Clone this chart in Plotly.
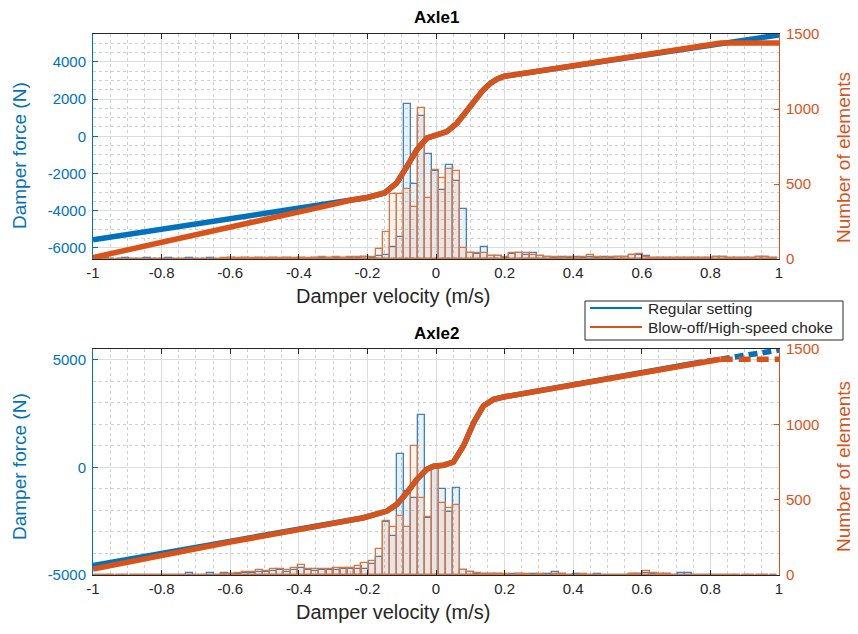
import plotly.graph_objects as go

# ---------------- data ----------------
# histogram bin centres (m/s), bin width 0.0205
bin_centers = [-0.986, -0.965, -0.945, -0.924, -0.904, -0.883, -0.863, -0.842, -0.822, -0.801,
               -0.781, -0.760, -0.740, -0.719, -0.699, -0.678, -0.658, -0.637, -0.617, -0.596,
               -0.576, -0.555, -0.535, -0.514, -0.494, -0.473, -0.453, -0.432, -0.412, -0.391,
               -0.371, -0.350, -0.330, -0.309, -0.289, -0.268, -0.248, -0.227, -0.207, -0.186,
               -0.166, -0.145, -0.125, -0.104, -0.084, -0.063, -0.043, -0.022, -0.002, 0.019,
               0.039, 0.060, 0.080, 0.101, 0.121, 0.142, 0.162, 0.183, 0.203, 0.224,
               0.244, 0.265, 0.285, 0.306, 0.326, 0.347, 0.368, 0.388, 0.409, 0.429,
               0.450, 0.470, 0.491, 0.511, 0.532, 0.552, 0.573, 0.593, 0.614, 0.634,
               0.655, 0.675, 0.696, 0.716, 0.737, 0.757, 0.778, 0.798, 0.819, 0.839,
               0.860, 0.880, 0.901, 0.921, 0.942, 0.962, 0.983]
bin_width = 0.0205

# Axle1 histogram counts
axle1_regular_counts = ([0, 4, 0, 0, 5, 0, 0, 6, 0, 0, 4, 0, 0, 6, 0, 0, 5, 0]
                        + [0, 5, 0, 6, 0, 4, 0, 6, 0, 5, 0, 6, 0, 8, 5]
                        + [8, 6, 10, 8, 10, 15, 10]
                        + [20, 30, 80, 150, 1031, 500, 953, 701, 585, 458, 629, 522, 333]
                        + [38, 35, 80, 22, 20, 10, 35, 38, 30, 42, 20]
                        + [12, 10, 14, 10, 12, 10, 12, 8, 12, 10, 12, 14]
                        + [25, 27, 20]
                        + [10, 10, 10, 10, 10, 10, 8, 8, 8, 15, 15, 8, 8, 8, 8, 15, 15, 5])
axle1_blowoff_counts = ([3] * 18
                        + [4, 4, 4, 5, 5, 5, 5, 6, 6, 6, 6, 8, 8, 10, 12]
                        + [10, 12, 10, 12, 12, 15, 15]
                        + [67, 183, 433, 433, 467, 345, 1009, 406, 596, 540, 603, 589, 71]
                        + [38, 38, 38, 22, 22, 15, 38, 38, 38, 30, 22]
                        + [12, 15, 10, 12, 10, 14, 25, 12, 10, 12, 14, 12]
                        + [27, 33, 15]
                        + [5, 5, 5, 5, 5, 5, 8, 8, 8, 15, 15, 8, 8, 8, 8, 15, 15, 5])

# Axle2 histogram counts
axle2_regular_counts = ([0, 0, 0, 0, 0, 0, 0, 0, 0, 0, 0, 0, 0, 13, 0, 0, 13, 0]
                        + [13, 5, 8, 10, 12, 20, 18, 28, 30, 22, 35, 45, 30, 28, 30]
                        + [30, 35, 38, 40, 42, 40, 75]
                        + [120, 355, 259, 803, 555, 509, 1062, 380, 708, 571, 420, 580, 30]
                        + [20, 8, 5, 4, 5, 3, 4, 5, 3, 4, 3]
                        + [4, 20, 4, 3, 4, 3, 3, 4, 3, 3, 3, 3]
                        + [4, 5, 10]
                        + [5, 4, 4, 3, 12, 12, 3, 3, 3, 3, 3, 3, 3, 3, 3, 3, 3, 3])
axle2_blowoff_counts = ([3] * 18
                        + [5, 8, 15, 18, 18, 33, 27, 40, 40, 33, 49, 66, 40, 40, 40]
                        + [40, 49, 49, 49, 60, 80, 90]
                        + [175, 360, 316, 392, 321, 858, 509, 387, 719, 478, 448, 465, 33]
                        + [22, 12, 5, 5, 4, 5, 3, 4, 5, 3, 4]
                        + [3, 8, 4, 3, 3, 4, 3, 3, 3, 3, 3, 3]
                        + [5, 8, 25]
                        + [15, 5, 4, 3, 3, 3, 3, 3, 3, 3, 3, 3, 3, 3, 3, 3, 3, 3])

# Axle1 damper characteristics (velocity m/s, force N)
axle1_regular_v = [-1.0, -0.6, -0.3, -0.25, -0.2, -0.15, -0.115, -0.085, -0.056, -0.027, 0.003,
                   0.032, 0.061, 0.09, 0.119, 0.138, 0.16, 0.18, 0.2, 0.4, 0.6, 0.8, 0.9, 1.0]
axle1_regular_f = [-5570, -4420, -3560, -3440, -3290, -3050, -2520, -1630, -730, -100, 75,
                   250, 700, 1420, 2135, 2500, 2870, 3100, 3230, 3780, 4330, 4950, 5200, 5450]
axle1_blowoff_v = [-1.0, -0.8, -0.6, -0.4, -0.3, -0.25, -0.2, -0.15, -0.115, -0.085, -0.056,
                   -0.027, 0.003, 0.032, 0.061, 0.09, 0.119, 0.138, 0.16, 0.18, 0.2, 0.4,
                   0.6, 0.8, 0.83, 1.0]
axle1_blowoff_f = [-6520, -5720, -4920, -4130, -3660, -3440, -3290, -3050, -2520, -1630, -730,
                   -100, 75, 250, 700, 1420, 2135, 2500, 2870, 3100, 3230, 3780,
                   4330, 4950, 5010, 5010]

# Axle2 damper characteristics
axle2_regular_v = [-1.0, -0.6, -0.3, -0.211, -0.143, -0.114, -0.085, -0.056, -0.027, -0.007,
                   0.022, 0.051, 0.08, 0.11, 0.138, 0.168, 0.2, 0.4, 0.6, 0.75]
axle2_regular_f = [-4560, -3420, -2590, -2340, -2030, -1720, -1180, -560, -90, 50,
                   100, 250, 990, 2080, 2850, 3160, 3280, 3850, 4400, 4830]
axle2_regular_tail_v = [0.75, 1.0]
axle2_regular_tail_f = [4830, 5450]
axle2_blowoff_v = [-1.0, -0.6, -0.3, -0.211, -0.143, -0.114, -0.085, -0.056, -0.027, -0.007,
                   0.022, 0.051, 0.08, 0.11, 0.138, 0.168, 0.2, 0.4, 0.6, 0.83]
axle2_blowoff_f = [-4720, -3470, -2600, -2340, -2030, -1720, -1180, -560, -90, 50,
                   100, 250, 990, 2080, 2850, 3160, 3280, 3850, 4400, 5020]
axle2_blowoff_tail_v = [0.83, 1.0]
axle2_blowoff_tail_f = [5020, 5020]

x_ticks = [-1, -0.8, -0.6, -0.4, -0.2, 0, 0.2, 0.4, 0.6, 0.8, 1]
x_ticktext = ["-1", "-0.8", "-0.6", "-0.4", "-0.2", "0", "0.2", "0.4", "0.6", "0.8", "1"]
axle1_force_ticks = [-6000, -4000, -2000, 0, 2000, 4000]
axle1_force_text = ["-6000", "-4000", "-2000", "0", "2000", "4000"]
axle2_force_ticks = [-5000, 0, 5000]
axle2_force_text = ["-5000", "0", "5000"]
count_ticks = [0, 500, 1000, 1500]
legend_labels = ["Regular setting", "Blow-off/High-speed choke"]

# ---------------- style ----------------
BLUE = "#0072BD"
ORANGE = "#D95319"
DARK = "#262626"
FONT = "Liberation Sans, Arial, sans-serif"
LW = 5.5
TICK_SIZE = 15
LABEL_SIZE = 19

# plot-area geometry in pixels (figure 858 x 634)
L, R, T, B = 93, 779, 34, 575
W_PX, H_PX = R - L, B - T


def px(xp):
    return (xp - L) / W_PX


def py(yp):
    return (B - yp) / H_PX


fig = go.Figure()


def add_hist(xa, ya, reg, blo):
    fig.add_trace(go.Bar(x=bin_centers, y=reg, width=bin_width, xaxis=xa, yaxis=ya,
                         marker=dict(color="rgba(0,114,189,0.09)",
                                     line=dict(color="#3C83C0", width=1.3)),
                         showlegend=False, hoverinfo="skip"))
    fig.add_trace(go.Bar(x=bin_centers, y=blo, width=bin_width, xaxis=xa, yaxis=ya,
                         marker=dict(color="rgba(217,83,25,0.07)",
                                     line=dict(color="#D9763F", width=1.3)),
                         showlegend=False, hoverinfo="skip"))


add_hist("x", "y", axle1_regular_counts, axle1_blowoff_counts)
add_hist("x2", "y3", axle2_regular_counts, axle2_blowoff_counts)

# curves (on overlaying force axes so they are drawn above the bars)
fig.add_trace(go.Scatter(x=axle1_regular_v, y=axle1_regular_f, xaxis="x", yaxis="y2",
                         mode="lines", line=dict(color=BLUE, width=LW), showlegend=False))
fig.add_trace(go.Scatter(x=axle1_blowoff_v, y=axle1_blowoff_f, xaxis="x", yaxis="y2",
                         mode="lines", line=dict(color=ORANGE, width=LW), showlegend=False))
fig.add_trace(go.Scatter(x=axle2_regular_v, y=axle2_regular_f, xaxis="x2", yaxis="y4",
                         mode="lines", line=dict(color=BLUE, width=LW), showlegend=False))
fig.add_trace(go.Scatter(x=axle2_regular_tail_v, y=axle2_regular_tail_f, xaxis="x2", yaxis="y4",
                         mode="lines", line=dict(color=BLUE, width=LW, dash="9px,5px"),
                         showlegend=False))
fig.add_trace(go.Scatter(x=axle2_blowoff_v, y=axle2_blowoff_f, xaxis="x2", yaxis="y4",
                         mode="lines", line=dict(color=ORANGE, width=LW), showlegend=False))
fig.add_trace(go.Scatter(x=axle2_blowoff_tail_v, y=axle2_blowoff_tail_f, xaxis="x2", yaxis="y4",
                         mode="lines", line=dict(color=ORANGE, width=LW, dash="12px,6px"),
                         showlegend=False))

TOP = [py(259), 1.0]
BOT = [0.0, py(349)]


def xaxis_cfg(anchor):
    return dict(domain=[0, 1], anchor=anchor, range=[-1, 1], automargin=False,
                tickvals=x_ticks, ticktext=x_ticktext,
                ticks="inside", ticklen=5, tickcolor=DARK,
                showline=True, linecolor=DARK, linewidth=1, mirror="ticks",
                showgrid=True, gridcolor="#DCDCDC", gridwidth=1, zeroline=False,
                minor=dict(dtick=0.05, tick0=0, showgrid=True, griddash="dot",
                           gridcolor="#CFCFCF", gridwidth=1),
                tickfont=dict(family=FONT, size=TICK_SIZE, color=DARK))


def count_cfg(domain, anchor):
    return dict(domain=domain, anchor=anchor, side="right", range=[0, 1500],
                automargin=False,
                tickvals=count_ticks, ticks="inside", ticklen=5, tickcolor=ORANGE,
                showline=True, linecolor=ORANGE, linewidth=1, showgrid=False,
                zeroline=False, ticklabelstandoff=3,
                tickfont=dict(family=FONT, size=TICK_SIZE, color=ORANGE))


def force_cfg(overlay, anchor, rng, tv, tt, mdt):
    return dict(overlaying=overlay, anchor=anchor, side="left", range=rng,
                automargin=False,
                tickvals=tv, ticktext=tt, ticks="inside", ticklen=5, tickcolor=BLUE,
                showline=True, linecolor=BLUE, linewidth=1,
                showgrid=True, gridcolor="#DCDCDC", gridwidth=1, zeroline=False,
                minor=dict(dtick=mdt, showgrid=True, griddash="dot",
                           gridcolor="#CFCFCF", gridwidth=1),
                ticklabelstandoff=3,
                tickfont=dict(family=FONT, size=TICK_SIZE, color=BLUE))


def text_ann(text, xp, yp, size, color, angle=0, bold=False, xanchor="center"):
    return dict(text=("<b>%s</b>" % text) if bold else text, x=px(xp), y=py(yp),
                xref="paper", yref="paper", showarrow=False, textangle=angle,
                xanchor=xanchor, yanchor="middle",
                font=dict(family=FONT, size=size, color=color))


annotations = [
    text_ann("Axle1", 436, 17, 17, "black", bold=True),
    text_ann("Axle2", 436, 333, 17, "black", bold=True),
    text_ann("Damper velocity (m/s)", 393, 296, 20, DARK),
    text_ann("Damper velocity (m/s)", 393, 612, 20, DARK),
    text_ann("Damper force (N)", 19, 156, LABEL_SIZE, BLUE, angle=-90),
    text_ann("Damper force (N)", 19, 467, LABEL_SIZE, BLUE, angle=-90),
    text_ann("Number of elements", 843, 158, LABEL_SIZE, ORANGE, angle=-90),
    text_ann("Number of elements", 843, 467, LABEL_SIZE, ORANGE, angle=-90),
    # legend texts
    text_ann(legend_labels[0], 646, 308, 15.5, DARK, xanchor="left"),
    text_ann(legend_labels[1], 646, 327, 15.5, DARK, xanchor="left"),
]

shapes = [
    dict(type="rect", xref="paper", yref="paper", x0=px(585), x1=px(843),
         y0=py(340), y1=py(301), fillcolor="white", line=dict(color=DARK, width=1),
         layer="above"),
    dict(type="line", xref="paper", yref="paper", x0=px(590), x1=px(642),
         y0=py(308), y1=py(308), line=dict(color=BLUE, width=2), layer="above"),
    dict(type="line", xref="paper", yref="paper", x0=px(590), x1=px(642),
         y0=py(327), y1=py(327), line=dict(color=ORANGE, width=2), layer="above"),
]

fig.update_layout(
    width=858, height=634,
    margin=dict(l=L, r=858 - R, t=T, b=634 - B, autoexpand=False),
    paper_bgcolor="white", plot_bgcolor="white",
    barmode="overlay", bargap=0, showlegend=False,
    xaxis=xaxis_cfg("y"),
    yaxis=count_cfg(TOP, "x"),
    yaxis2=force_cfg("y", "x", [-6600, 5500], axle1_force_ticks, axle1_force_text, 500),
    xaxis2=xaxis_cfg("y3"),
    yaxis3=count_cfg(BOT, "x2"),
    yaxis4=force_cfg("y3", "x2", [-5000, 5500], axle2_force_ticks, axle2_force_text, 1000),
    annotations=annotations,
    shapes=shapes,
)

# place the figure at the top-left corner of the page (no default body margin)
fig.write_html("out.html", config={"displayModeBar": False},
               post_script="document.body.style.margin='0';document.body.style.overflow='hidden';")
